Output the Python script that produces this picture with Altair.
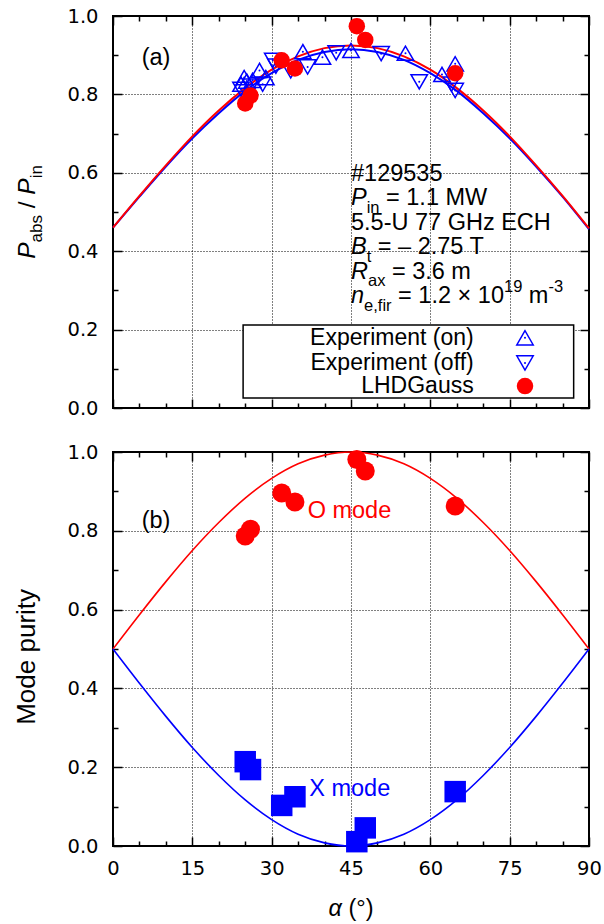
import altair as alt
import pandas as pd

# ---------------- values ----------------
curve_alpha = [0, 5, 10, 15, 20, 25, 30, 35, 40, 45, 50, 55, 60, 65, 70, 75, 80, 85, 90]
pabs_curve_red = [0.460, 0.541, 0.619, 0.693, 0.759, 0.816, 0.863, 0.897, 0.918, 0.925,
                  0.918, 0.897, 0.863, 0.816, 0.759, 0.693, 0.619, 0.541, 0.458]
pabs_curve_blue = [0.460, 0.539, 0.616, 0.688, 0.752, 0.809, 0.854, 0.888, 0.908, 0.915,
                   0.908, 0.888, 0.854, 0.809, 0.752, 0.688, 0.616, 0.539, 0.456]
purity_o_curve = [0.500, 0.587, 0.671, 0.750, 0.821, 0.883, 0.933, 0.970, 0.992, 1.000,
                  0.992, 0.970, 0.933, 0.883, 0.821, 0.750, 0.671, 0.587, 0.500]
purity_x_curve = [0.500, 0.413, 0.329, 0.250, 0.179, 0.117, 0.067, 0.030, 0.008, 0.000,
                  0.008, 0.030, 0.067, 0.117, 0.179, 0.250, 0.329, 0.413, 0.500]

exp_on_alpha = [24.2, 24.8, 25.3, 26.4, 27.7, 28.9, 35.9, 39.6, 45.0, 55.3, 62.2, 64.7]
exp_on_pabs = [0.826, 0.843, 0.834, 0.836, 0.861, 0.843, 0.909, 0.895, 0.912, 0.905, 0.851, 0.878]
exp_off_alpha = [24.2, 26.1, 28.3, 30.2, 30.8, 33.6, 36.8, 42.2, 50.7, 57.9, 64.0, 64.7]
exp_off_pabs = [0.813, 0.821, 0.826, 0.887, 0.872, 0.860, 0.870, 0.906, 0.904, 0.832, 0.826, 0.810]

lhd_alpha = [25.0, 26.0, 31.9, 34.4, 46.1, 47.7, 64.7]
lhd_pabs = [0.777, 0.797, 0.887, 0.866, 0.974, 0.939, 0.854]
lhd_purity_o = [0.787, 0.804, 0.896, 0.873, 0.981, 0.952, 0.863]
lhd_purity_x = [0.214, 0.194, 0.103, 0.125, 0.011, 0.046, 0.138]

x_major = [0, 15, 30, 45, 60, 75, 90]
x_minor = [5, 10, 20, 25, 35, 40, 50, 55, 65, 70, 80, 85]
y_major = [0.0, 0.2, 0.4, 0.6, 0.8, 1.0]
y_minor = [0.1, 0.3, 0.5, 0.7, 0.9]

legend_labels = ["Experiment (on)", "Experiment (off)", "LHDGauss"]
panel_tags = ["(a)", "(b)"]
mode_labels = ["O mode", "X mode"]

info_lines = [
    [("#129535", "")],
    [("P", "i"), ("in", "sub"), (" = 1.1 MW", "")],
    [("5.5-U 77 GHz ECH", "")],
    [("B", "i"), ("t", "sub"), (" = \u2013 2.75 T", "")],
    [("R", "i"), ("ax", "sub"), (" = 3.6 m", "")],
    [("n", "i"), ("e,fir", "sub"), (" = 1.2 \u00d7 10", ""), ("19", "sup"), (" m", ""), ("-3", "sup")],
]
ylabel_top = [("P", "i"), ("abs", "sub"), (" / ", ""), ("P", "i"), ("in", "sub")]
ylabel_bottom = "Mode purity"
xlabel = [("\u03b1", "i"), (" (\u00b0)", "")]

# ---------------- styling / layout ----------------
FONT = "Liberation Sans"
TICKFONT = "DejaVu Sans"
RED = "#ff0000"
BLUE = "#0000ff"
W = 476
H_TOP = 392
H_BOT = 394
MAIN = 23.5
SMALL = 16.5
SUB_SHIFT = 7.5
SUP_SHIFT = -11.0

XS = alt.Scale(domain=[0, 90], nice=False, zero=False)
YS = alt.Scale(domain=[0, 1], nice=False, zero=False)

CW = {" ": .278, "#": .556, ".": .278, "=": .584, "-": .333, "\u2013": .556, "\u00d7": .584,
      "P": .667, "B": .667, "R": .722, "M": .833, "W": .944, "U": .722, "G": .778, "H": .722,
      "E": .667, "C": .722, "T": .611, "n": .556, "m": .833, "i": .222, "a": .556, "b": .556,
      "s": .5, "x": .5, "t": .278, "e": .556, ",": .278, "f": .278, "r": .333, "/": .278,
      "(": .333, ")": .333, "z": .5, "\u03b1": .579, "\u00b0": .4}


def width(s, size):
    return sum(CW.get(c, .556) for c in s) * size


def seg_rows(segs, a0, v0, H, rotated=False, main=MAIN, small=SMALL):
    rows = []
    px = 0.0
    for txt, st in segs:
        size = small if st in ("sub", "sup") else main
        shift = SUB_SHIFT if st == "sub" else (SUP_SHIFT if st == "sup" else 0.0)
        lead = len(txt) - len(txt.lstrip(" "))
        trail = len(txt) - len(txt.rstrip(" "))
        core = txt.strip(" ")
        px += lead * CW[" "] * size
        if rotated:
            a = a0 + shift * 90.0 / W
            v = v0 + px / H
        else:
            a = a0 + px * 90.0 / W
            v = v0 - shift / H
        rows.append({"a": a, "v": v, "t": core, "s": size, "it": st == "i"})
        px += width(core, size) + trail * CW[" "] * size
    return rows, px


def text_layers(rows, color="black", angle=None, baseline="alphabetic"):
    out = []
    for it in (False, True):
        sub = [r for r in rows if r["it"] == it]
        if not sub:
            continue
        kw = dict(align="left", baseline=baseline, font=FONT, color=color)
        if it:
            kw["fontStyle"] = "italic"
        if angle is not None:
            kw["angle"] = angle
        out.append(alt.Chart(pd.DataFrame(sub)).mark_text(**kw).encode(
            x=alt.X("a:Q", scale=XS, axis=None),
            y=alt.Y("v:Q", scale=YS, axis=None),
            text="t:N",
            size=alt.Size("s:Q", scale=None, legend=None)))
    return out


def xy(chart, xaxis=None, yaxis=None):
    return chart.encode(x=alt.X("a:Q", scale=XS, axis=xaxis),
                        y=alt.Y("v:Q", scale=YS, axis=yaxis))


def main_axes(show_x_labels):
    ax = alt.Axis(orient="bottom", values=x_major, labels=show_x_labels, ticks=False, domain=False,
                  grid=True, gridColor="black", gridDash=[1, 2], gridWidth=1, gridOpacity=1,
                  labelFont=TICKFONT, labelFontSize=19.5, labelColor="black", labelPadding=13,
                  labelFlush=False, labelOverlap=False, title=None)
    ay = alt.Axis(orient="left", values=y_major, format=".1f", ticks=False, domain=False,
                  grid=True, gridColor="black", gridDash=[1, 2], gridWidth=1, gridOpacity=1,
                  labelFont=TICKFONT, labelFontSize=19.5, labelColor="black", labelPadding=15,
                  labelFlush=False, labelOverlap=False, title=None)
    return ax, ay


def tick_axis(orient, offset, values, size):
    return alt.Axis(orient=orient, offset=offset, values=values, labels=False, domain=False,
                    grid=False, ticks=True, tickSize=size, tickColor="black", tickWidth=1.5,
                    title=None)


def tick_layers(df, H):
    specs = [
        (tick_axis("top", -H, x_major, 9), tick_axis("right", -W, y_major, 9)),
        (tick_axis("top", -H, x_minor, 5), tick_axis("right", -W, y_minor, 5)),
        (tick_axis("bottom", -H, x_major, 9), tick_axis("left", -W, y_major, 9)),
        (tick_axis("bottom", -H, x_minor, 5), tick_axis("left", -W, y_minor, 5)),
    ]
    return [xy(alt.Chart(df).mark_line(strokeOpacity=0), ax, ay) for ax, ay in specs]


def points(df, shape, color, size, filled=True, stroke_width=1.5):
    kw = dict(shape=shape, color=color, size=size, filled=filled, opacity=1)
    if not filled:
        kw["strokeWidth"] = stroke_width
    return xy(alt.Chart(df).mark_point(**kw))


# ---------------- top panel ----------------
red_top = pd.DataFrame({"a": curve_alpha, "v": pabs_curve_red})
blue_top = pd.DataFrame({"a": curve_alpha, "v": pabs_curve_blue})
on_df = pd.DataFrame({"a": exp_on_alpha, "v": exp_on_pabs})
off_df = pd.DataFrame({"a": exp_off_alpha, "v": exp_off_pabs})
lhd_top = pd.DataFrame({"a": lhd_alpha, "v": lhd_pabs})

ax_t, ay_t = main_axes(False)
top_layers = [
    xy(alt.Chart(blue_top).mark_line(color=BLUE, strokeWidth=2, interpolate="monotone"), ax_t, ay_t),
    xy(alt.Chart(red_top).mark_line(color=RED, strokeWidth=2, interpolate="monotone")),
]
top_layers += tick_layers(red_top, H_TOP)
top_layers += [
    points(on_df, "triangle-up", BLUE, 270, filled=False),
    points(on_df, "circle", BLUE, 4),
    points(off_df, "triangle-down", BLUE, 270, filled=False),
    points(off_df, "circle", BLUE, 4),
    points(lhd_top, "circle", RED, 272),
]

# legend (drawn inside the plot like the original)
leg_box = pd.DataFrame({"a": [24.6], "a2": [87.1], "v": [0.0255], "v2": [0.212]})
top_layers.append(alt.Chart(leg_box).mark_rect(fill="white", stroke="black", strokeWidth=1.5).encode(
    x=alt.X("a:Q", scale=XS, axis=None), x2="a2:Q",
    y=alt.Y("v:Q", scale=YS, axis=None), y2="v2:Q"))
leg_rows_v = [0.179, 0.115, 0.056]
leg_txt = pd.DataFrame({"a": [68.2] * 3, "v": leg_rows_v, "t": legend_labels})
top_layers.append(alt.Chart(leg_txt).mark_text(align="right", baseline="middle", font=FONT,
                                               fontSize=23, color="black").encode(
    x=alt.X("a:Q", scale=XS, axis=None), y=alt.Y("v:Q", scale=YS, axis=None), text="t:N"))
leg_on = pd.DataFrame({"a": [77.9], "v": [leg_rows_v[0]]})
leg_off = pd.DataFrame({"a": [77.9], "v": [leg_rows_v[1]]})
leg_lhd = pd.DataFrame({"a": [77.9], "v": [leg_rows_v[2]]})
top_layers += [
    points(leg_on, "triangle-up", BLUE, 270, filled=False),
    points(leg_on, "circle", BLUE, 4),
    points(leg_off, "triangle-down", BLUE, 270, filled=False),
    points(leg_off, "circle", BLUE, 4),
    points(leg_lhd, "circle", RED, 272),
]

# parameter block
info = []
for i, line in enumerate(info_lines):
    rows, _ = seg_rows(line, 45.0, 0.580 - 0.0625 * i, H_TOP)
    info += rows
top_layers += text_layers(info)

tag_a = pd.DataFrame({"a": [8.13], "v": [0.893], "t": [panel_tags[0]]})
top_layers.append(alt.Chart(tag_a).mark_text(align="center", baseline="middle", font=FONT,
                                             fontSize=MAIN, color="black").encode(
    x=alt.X("a:Q", scale=XS, axis=None), y=alt.Y("v:Q", scale=YS, axis=None), text="t:N"))

# rotated y title of the top panel
_, total = seg_rows(ylabel_top, 0, 0, H_TOP, rotated=True, main=24.5, small=17)
yt_rows, _ = seg_rows(ylabel_top, -14.8, 0.5 - total / 2.0 / H_TOP, H_TOP, rotated=True,
                      main=24.5, small=17)
top_layers += text_layers(yt_rows, angle=270)

top = alt.layer(*top_layers).resolve_axis(x="independent", y="independent").properties(
    width=W, height=H_TOP)

# ---------------- bottom panel ----------------
o_curve = pd.DataFrame({"a": curve_alpha, "v": purity_o_curve})
x_curve = pd.DataFrame({"a": curve_alpha, "v": purity_x_curve})
o_pts = pd.DataFrame({"a": lhd_alpha, "v": lhd_purity_o})
x_pts = pd.DataFrame({"a": lhd_alpha, "v": lhd_purity_x})

ax_b, ay_b = main_axes(True)
bot_layers = [
    xy(alt.Chart(o_curve).mark_line(color=RED, strokeWidth=1.6, interpolate="monotone"), ax_b, ay_b),
    xy(alt.Chart(x_curve).mark_line(color=BLUE, strokeWidth=1.6, interpolate="monotone")),
]
bot_layers += tick_layers(o_curve, H_BOT)
bot_layers += [
    points(o_pts, "circle", RED, 361),
    points(x_pts, "square", BLUE, 462),
]
mode_df_o = pd.DataFrame({"a": [36.8], "v": [0.850], "t": [mode_labels[0]]})
mode_df_x = pd.DataFrame({"a": [37.1], "v": [0.144], "t": [mode_labels[1]]})
for dfm, col in ((mode_df_o, RED), (mode_df_x, BLUE)):
    bot_layers.append(alt.Chart(dfm).mark_text(align="left", baseline="middle", font=FONT,
                                               fontSize=MAIN, color=col).encode(
        x=alt.X("a:Q", scale=XS, axis=None), y=alt.Y("v:Q", scale=YS, axis=None), text="t:N"))
tag_b = pd.DataFrame({"a": [8.13], "v": [0.825], "t": [panel_tags[1]]})
bot_layers.append(alt.Chart(tag_b).mark_text(align="center", baseline="middle", font=FONT,
                                             fontSize=MAIN, color="black").encode(
    x=alt.X("a:Q", scale=XS, axis=None), y=alt.Y("v:Q", scale=YS, axis=None), text="t:N"))
ylab_b = pd.DataFrame({"a": [-14.8], "v": [0.48], "t": [ylabel_bottom]})
bot_layers.append(alt.Chart(ylab_b).mark_text(align="center", baseline="alphabetic", font=FONT,
                                              fontSize=26, color="black", angle=270).encode(
    x=alt.X("a:Q", scale=XS, axis=None), y=alt.Y("v:Q", scale=YS, axis=None), text="t:N"))
_, xtot = seg_rows(xlabel, 0, 0, H_BOT)
xl_rows, _ = seg_rows(xlabel, 45.0 - (xtot / 2.0) * 90.0 / W, -0.160, H_BOT)
bot_layers += text_layers(xl_rows, baseline="middle")

bottom = alt.layer(*bot_layers).resolve_axis(x="independent", y="independent").properties(
    width=W, height=H_BOT)

chart = alt.vconcat(top, bottom, spacing=44, bounds="flush").properties(
    padding={"left": 12, "top": 5, "right": 0, "bottom": 0},
    background="white",
).configure(font=FONT).configure_view(stroke="black", strokeWidth=2)

chart.save("out.html", embed_options={"renderer": "svg", "actions": False})
